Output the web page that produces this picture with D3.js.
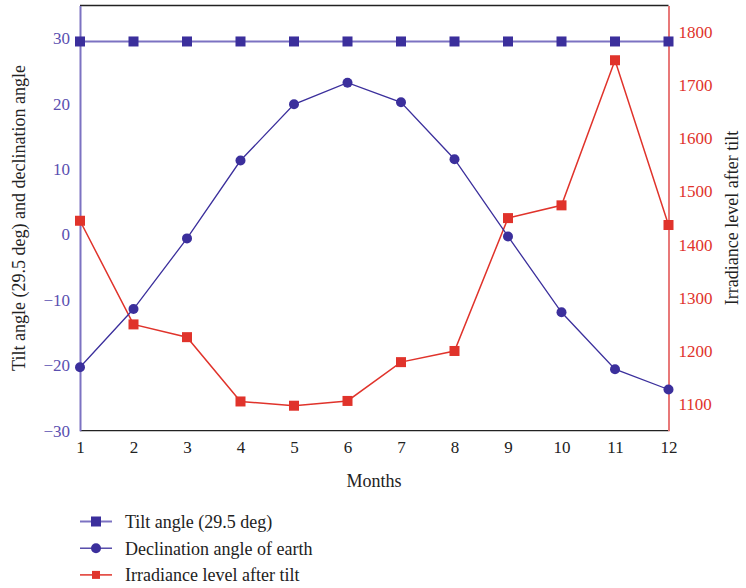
<!DOCTYPE html>
<html><head><meta charset="utf-8">
<script src="https://cdn.jsdelivr.net/npm/d3@7"></script>
<style>body{margin:0;background:#fff} text{font-family:'Liberation Serif','Times New Roman',serif}</style>
</head><body>
<svg id="c" width="746" height="588"></svg>
<script>
const months = [1,2,3,4,5,6,7,8,9,10,11,12];
const tilt = [29.5,29.5,29.5,29.5,29.5,29.5,29.5,29.5,29.5,29.5,29.5,29.5];
const declination = [-20.3,-11.4,-0.6,11.3,19.9,23.2,20.2,11.5,-0.3,-11.9,-20.6,-23.7];
const irradiance = [1445,1250,1226,1105,1097,1106,1179,1200,1450,1474,1747,1437];
const leftTicks = [-30,-20,-10,0,10,20,30];
const rightTicks = [1100,1200,1300,1400,1500,1600,1700,1800];

const svg = d3.select("#c");
const font = "Liberation Serif";
const L = 80, R = 668.5, T = 5.5, B = 430.7;
const x = d3.scaleLinear().domain([1,12]).range([L,R]);
const yL = d3.scaleLinear().domain([-30,35]).range([B,T]);
const yR = d3.scaleLinear().domain([1050,1850]).range([B,T]);

const blue = "#3b2f9c", blueLight = "#7c72c2", red = "#e0332b", redAxis = "#e87878";
const tickSize = "17px", labSize = "18px";

// frame
svg.append("line").attr("x1",L).attr("x2",R).attr("y1",T).attr("y2",T).attr("stroke","#222").attr("stroke-width",1.3);
svg.append("line").attr("x1",L).attr("x2",R).attr("y1",B).attr("y2",B).attr("stroke","#222").attr("stroke-width",1.3);

// axes
const axL = svg.append("g").attr("transform",`translate(${L},0)`)
  .call(d3.axisLeft(yL).tickValues(leftTicks).tickSize(0).tickPadding(10).tickFormat(d=> d<0 ? "\u2212"+Math.abs(d) : String(d)));
axL.attr("font-family",font).attr("font-size",tickSize);
axL.select(".domain").attr("stroke",blueLight).attr("stroke-width",2);
axL.selectAll("text").attr("fill","#5a4fb0");

const axR = svg.append("g").attr("transform",`translate(${R},0)`)
  .call(d3.axisRight(yR).tickValues(rightTicks).tickSize(0).tickPadding(10).tickFormat(d3.format("d")));
axR.attr("font-family",font).attr("font-size",tickSize);
axR.select(".domain").attr("stroke",redAxis).attr("stroke-width",2);
axR.selectAll("text").attr("fill",red);

const axB = svg.append("g").attr("transform",`translate(0,${B})`)
  .call(d3.axisBottom(x).tickValues(months).tickSize(0).tickPadding(10).tickFormat(d3.format("d")));
axB.attr("font-family",font).attr("font-size",tickSize);
axB.select(".domain").remove();
axB.selectAll("text").attr("fill","#222");

// labels
svg.append("text").attr("x",374).attr("y",487).attr("text-anchor","middle")
  .attr("font-family",font).attr("font-size",labSize).attr("fill","#222").text("Months");
svg.append("text").attr("transform",`translate(25,218) rotate(-90)`).attr("text-anchor","middle")
  .attr("font-family",font).attr("font-size",labSize).attr("fill","#222").text("Tilt angle (29.5 deg) and declination angle");
svg.append("text").attr("transform",`translate(738,218) rotate(-90)`).attr("text-anchor","middle")
  .attr("font-family",font).attr("font-size",labSize).attr("fill","#222").text("Irradiance level after tilt");

// series
const lineL = d3.line().x((d,i)=>x(months[i])).y(d=>yL(d));
const lineR = d3.line().x((d,i)=>x(months[i])).y(d=>yR(d));

svg.append("path").attr("d",lineR(irradiance)).attr("fill","none").attr("stroke",red).attr("stroke-width",1.5);
svg.selectAll(".irr").data(irradiance).enter().append("rect")
  .attr("x",(d,i)=>x(months[i])-5).attr("y",d=>yR(d)-5).attr("width",10).attr("height",10).attr("fill",red);

svg.append("path").attr("d",lineL(declination)).attr("fill","none").attr("stroke",blue).attr("stroke-width",1.3);
svg.selectAll(".dec").data(declination).enter().append("circle")
  .attr("cx",(d,i)=>x(months[i])).attr("cy",d=>yL(d)).attr("r",5).attr("fill",blue);

svg.append("path").attr("d",lineL(tilt)).attr("fill","none").attr("stroke",blueLight).attr("stroke-width",2);
svg.selectAll(".tilt").data(tilt).enter().append("rect")
  .attr("x",(d,i)=>x(months[i])-5).attr("y",d=>yL(d)-5).attr("width",10).attr("height",10).attr("fill",blue);

// legend
const leg = [
  {label:"Tilt angle (29.5 deg)", stroke:blueLight, fill:blue, shape:"sq", w:2, s:10},
  {label:"Declination angle of earth", stroke:blue, fill:blue, shape:"c", w:1.3},
  {label:"Irradiance level after tilt", stroke:red, fill:red, shape:"sq", w:1.5, s:8}
];
leg.forEach((d,i)=>{
  const yy = 521.5 + i*26.7;
  svg.append("line").attr("x1",80).attr("x2",112).attr("y1",yy).attr("y2",yy).attr("stroke",d.stroke).attr("stroke-width",d.w);
  if(d.shape==="sq") svg.append("rect").attr("x",96-d.s/2).attr("y",yy-d.s/2).attr("width",d.s).attr("height",d.s).attr("fill",d.fill);
  else svg.append("circle").attr("cx",96).attr("cy",yy).attr("r",5).attr("fill",d.fill);
  svg.append("text").attr("x",125).attr("y",yy).attr("dy","0.35em")
    .attr("font-family",font).attr("font-size",labSize).attr("fill","#222").text(d.label);
});
</script>
</body></html>
